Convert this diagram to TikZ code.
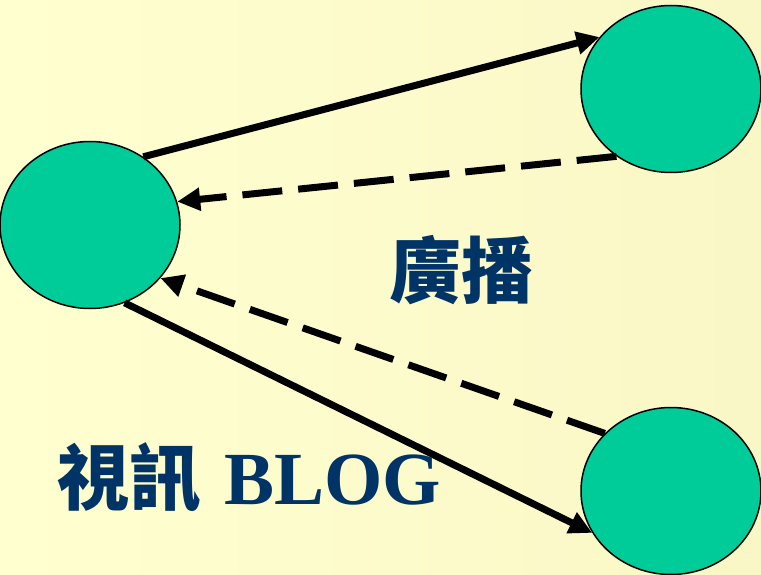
\documentclass[tikz,border=0pt]{standalone}
\usepackage{fontspec}
\setmainfont{Liberation Serif}
\newfontfamily\cjk{Noto Sans CJK TC}
\usetikzlibrary{arrows.meta,shapes.geometric}
\definecolor{bgA}{RGB}{255,255,208}
\definecolor{bgB}{RGB}{250,247,198}
\definecolor{nodefill}{RGB}{0,204,153}
\definecolor{txtblue}{RGB}{0,51,102}
\tikzset{
  blob/.style={ellipse, draw=black, line width=1.5pt, fill=nodefill,
    minimum width=180pt, minimum height=167pt, inner sep=0pt},
  link/.style={line width=7pt, -{Triangle[length=23pt,width=22pt]}},
  backlink/.style={link, dash pattern=on 40pt off 16pt},
  lbl/.style={text=txtblue, font=\fontsize{72}{80}\selectfont\bfseries, inner sep=0pt}
}
\begin{document}
\begin{tikzpicture}[x=1pt,y=-1pt]
\useasboundingbox (0,0) rectangle (761,575);
\clip (0,0) rectangle (761,575);
\shade[left color=bgA, right color=bgB] (0,0) rectangle (761,575);
\node[blob] (a) at (90,225) {};
\node[blob] (b) at (671,89) {};
\node[blob] (c) at (671,491) {};
\draw[link] (a.52.7) -- (b.144.8);
\draw[backlink] (b.-129.4) -- (a.15);
\draw[backlink] (c.139.4) -- (a.-37);
\draw[link] (a.-66.6) -- (c.208.9);
\node[lbl, anchor=center] (t1) at (461,270) {\cjk 廣播};
\node[lbl, anchor=base west] (t2) at (57,504) {{\cjk 視訊}\hspace{0.32em}{\fontsize{75}{80}\selectfont BLOG}};
\end{tikzpicture}
\end{document}
